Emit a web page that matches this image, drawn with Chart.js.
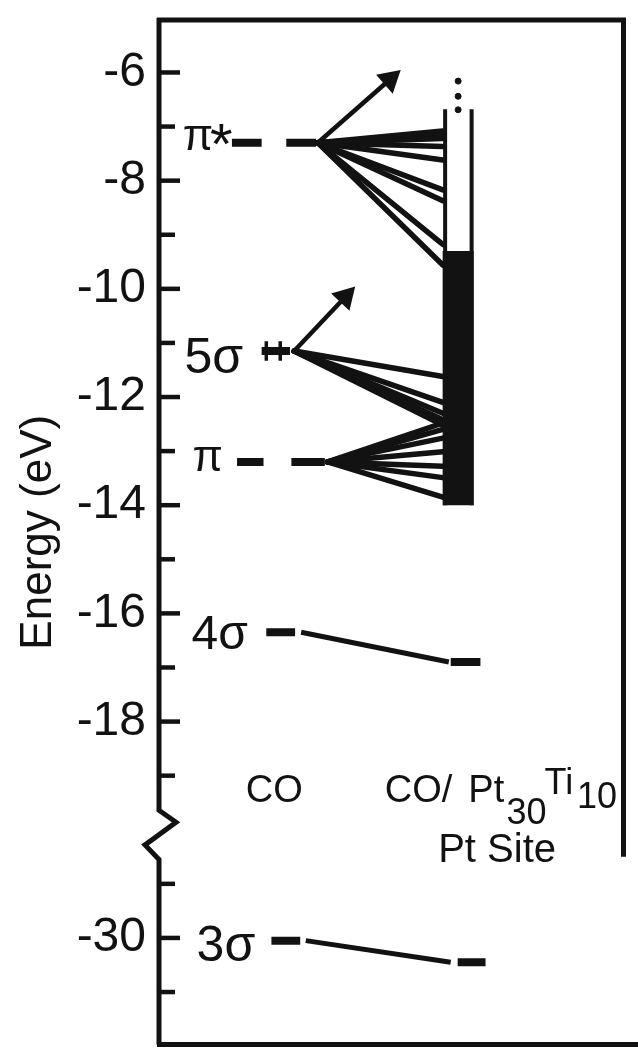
<!DOCTYPE html>
<html lang="en">
<head>
<meta charset="UTF-8">
<title>CO / Pt30Ti10 energy levels</title>
<script src="https://cdn.jsdelivr.net/npm/chart.js@4.4.0/dist/chart.umd.min.js"></script>
<style>
  html, body { margin: 0; padding: 0; background: #fff; overflow: hidden; }
  #box { width: 638px; height: 1059px; overflow: hidden; }
  #levels { display: block; width: 638px; height: 1059px; }
</style>
</head>
<body>
<div id="box"><canvas id="levels" width="638" height="1059"></canvas></div>
<script>
// energies in eV
const BREAK_SHIFT = 8;   // -29..-31 eV are drawn right under the axis break
const tickValues = [-6, -7, -8, -9, -10, -11, -12, -13, -14, -15, -16, -17, -18, -19, -29, -30, -31];
const tickLabels = [-6, -8, -10, -12, -14, -16, -18, -30];

// free CO
const coLevelNames = ['π*', '5σ', 'π', '4σ', '3σ'];
const coLevels = [-7.3, -11.15, -13.2, -16.35, -30.05];

// CO on Pt30Ti10, Pt site
const siteLevelNames = ['4σ', '3σ'];
const siteLevels = [-16.9, -30.45];
const bandTop = -6.68;
const bandFillTop = -9.3;
const bandBottom = -14.0;
const bandDots = [-6.16, -6.44, -6.69];

// mixing of the CO orbitals into the band
const piStarFan = [-7.08, -7.15, -7.22, -7.37, -7.62, -8.17, -8.37, -9.18, -9.56];
const fiveSigmaFan = [-11.62, -12.1, -12.3, -12.42, -12.52];
const piFan = [-12.48, -12.6, -12.76, -13.01, -13.28, -13.49, -13.85];
const arrowTips = [-6.13, -10.15];   // π* and 5σ

// horizontal layout of the diagram, 0..100 across the box
const coDashX = [[[15.7, 22.1], [27.4, 33.8]], [[22.1, 28.2]], [[16.8, 22.5], [28.5, 35.7]], [[23.1, 29.3]], [[24.2, 30.4]]];
const fanFromX = [34.2, 29.1, 36.3];
const fanToX = 61.1;
const arrowToX = [49.7, 40.1];
const tieX = [[30.6, 62.4], [31.6, 62.8]];
const siteDashX = [[62.8, 69.2], [64.3, 70.3]];
const bandX = 64.4, bandWallX = [61.6, 67.3];

const INK = '#121212';
const FONT = '"Liberation Sans", Arial, sans-serif';
const toPlot = e => (e < -20 ? e + BREAK_SHIFT : e);
const fromPlot = v => (v < -20 ? v - BREAK_SHIFT : v);

function segment(x1, e1, x2, e2, width, cap) {
  return {
    data: [{x: x1, y: toPlot(e1)}, {x: x2, y: toPlot(e2)}],
    showLine: true,
    borderColor: INK,
    borderWidth: width,
    borderCapStyle: cap || 'butt',
    pointRadius: 0
  };
}

const datasets = [];

// band: open top part, filled lower part
datasets.push(segment(bandX, bandFillTop, bandX, bandBottom, 31));
bandWallX.forEach(x => datasets.push(segment(x, bandTop, x, bandBottom, 4)));
datasets.push({
  data: bandDots.map(e => ({x: bandX, y: toPlot(e)})),
  showLine: false, pointRadius: 3, pointBackgroundColor: INK, pointBorderColor: INK
});

// CO levels
coLevels.forEach((e, i) => {
  coDashX[i].forEach(([a, b]) => datasets.push(segment(a, e, b, e, 8)));
});
// the hash on the 5σ level
[23.1, 26.1].forEach(x => datasets.push(segment(x, coLevels[1] + 0.18, x, coLevels[1] - 0.18, 3.5)));

// fans
[piStarFan, fiveSigmaFan, piFan].forEach((fan, k) => {
  fan.forEach(e => datasets.push(segment(fanFromX[k], coLevels[k], fanToX, e, 5.5, 'round')));
});

// arrows
arrowTips.forEach((e, k) => {
  const ds = segment(fanFromX[k], coLevels[k], arrowToX[k], e, 4.5);
  ds.pointRadius = c => (c.dataIndex === 1 ? 10 : 0);
  ds.pointStyle = 'triangle';
  ds.pointBackgroundColor = INK;
  ds.pointBorderColor = INK;
  ds.pointRotation = c => {
    const p = c.dataset.data, xs = c.chart.scales.x, ys = c.chart.scales.y;
    const dx = xs.getPixelForValue(p[1].x) - xs.getPixelForValue(p[0].x);
    const dy = ys.getPixelForValue(p[1].y) - ys.getPixelForValue(p[0].y);
    return Math.atan2(dx, -dy) * 180 / Math.PI;
  };
  datasets.push(ds);
});

// 4σ and 3σ: tie line and shifted level
siteLevels.forEach((e, k) => {
  const co = coLevels[3 + k];
  datasets.push(segment(tieX[k][0], co, tieX[k][1], e, 5));
  datasets.push(segment(siteDashX[k][0], e, siteDashX[k][1], e, 8));
});

// label positions: [x, baseline offset px, font px]
const levelLabelPos = [[5.1, 7, 44], [5.5, 22, 50], [7.2, 9, 44], [7.0, 17, 48], [8.1, 20, 50]];

const decor = {
  id: 'decor',
  afterDraw(chart) {
    const {ctx, chartArea: a} = chart;
    const xs = chart.scales.x, ys = chart.scales.y;
    const yp = v => ys.getPixelForValue(v);
    ctx.save();
    ctx.strokeStyle = INK;
    ctx.fillStyle = INK;
    ctx.lineCap = 'butt';
    ctx.lineJoin = 'miter';

    // axis line with the break
    ctx.lineWidth = 5;
    ctx.beginPath();
    ctx.moveTo(a.left, a.top - 2);
    ctx.lineTo(a.left, yp(-19.64));
    ctx.lineTo(a.left + 17, yp(-19.86));
    ctx.lineTo(a.left - 14, yp(-20.28));
    ctx.lineTo(a.left, yp(-20.55));
    ctx.lineTo(a.left, a.bottom);
    ctx.stroke();

    // inward ticks
    ctx.lineWidth = 4.5;
    tickValues.forEach(v => {
      const y = yp(toPlot(v));
      const len = tickLabels.includes(v) ? 21 : 16;
      ctx.beginPath();
      ctx.moveTo(a.left, y);
      ctx.lineTo(a.left + len, y);
      ctx.stroke();
    });

    // box
    ctx.lineWidth = 5;
    ctx.beginPath();
    ctx.moveTo(a.left - 2, a.top);
    ctx.lineTo(a.right, a.top);
    ctx.lineTo(a.right, yp(-20.5));
    ctx.stroke();
    ctx.beginPath();
    ctx.moveTo(a.left - 2, a.bottom);
    ctx.lineTo(chart.width, a.bottom);
    ctx.stroke();

    // level names
    ctx.textAlign = 'left';
    ctx.textBaseline = 'alphabetic';
    coLevelNames.forEach((name, i) => {
      const [x, dy, size] = levelLabelPos[i];
      const y = yp(toPlot(coLevels[i])) + dy;
      ctx.font = size + 'px ' + FONT;
      if (name === 'π*') {
        ctx.fillText('π', xs.getPixelForValue(x), y);
        ctx.font = '58px ' + FONT;
        ctx.fillText('*', xs.getPixelForValue(x + 5.9), y + 14);
      } else {
        ctx.fillText(name, xs.getPixelForValue(x), y);
      }
    });

    // column names
    const put = (t, x, v, size) => {
      ctx.font = size + 'px ' + FONT;
      ctx.fillText(t, xs.getPixelForValue(x), yp(v));
    };
    put('CO', 18.7, -19.49, 38);
    put('CO/', 48.6, -19.49, 38);
    put('Pt', 66.6, -19.49, 38);
    put('30', 74.8, -19.9, 36);
    put('Ti', 83.0, -19.33, 36);
    put('10', 90.0, -19.6, 36);
    put('Pt Site', 60.1, -20.6, 40);
    ctx.restore();
  }
};

new Chart(document.getElementById('levels'), {
  type: 'scatter',
  data: {datasets},
  options: {
    responsive: false,
    animation: false,
    events: [],
    layout: {padding: {left: 0, top: 20, right: 8, bottom: 2}},
    plugins: {legend: {display: false}, tooltip: {enabled: false}},
    scales: {
      x: {type: 'linear', display: false, min: 0, max: 100},
      y: {
        type: 'linear',
        position: 'left',
        min: -23.97,
        max: -5.03,
        afterFit: s => { s.width = 159; s.paddingTop = 0; s.paddingBottom = 0; },
        afterBuildTicks: s => { s.ticks = tickValues.map(v => ({value: toPlot(v)})); },
        border: {display: false},
        grid: {display: false, drawTicks: false},
        ticks: {
          autoSkip: false,
          padding: 13,
          color: INK,
          font: {family: FONT, size: 48},
          callback: v => {
            const e = Math.round(fromPlot(v));
            return tickLabels.includes(e) ? String(e) : '';
          }
        },
        title: {
          display: true,
          text: 'Energy (eV)',
          color: INK,
          font: {family: FONT, size: 44},
          padding: {top: 12, bottom: 0}
        }
      }
    }
  },
  plugins: [decor]
});
</script>
</body>
</html>
